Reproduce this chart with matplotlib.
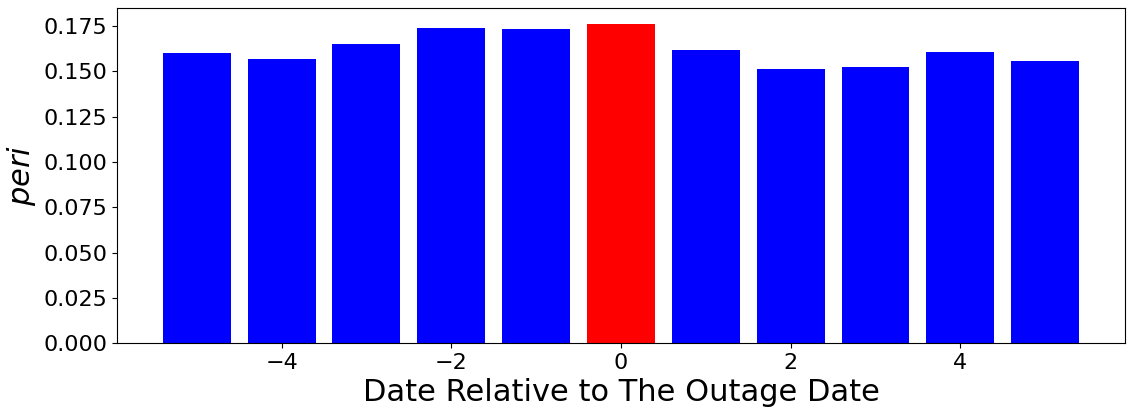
import numpy as np
import matplotlib
matplotlib.use("Agg")
import matplotlib.pyplot as plt
from matplotlib.ticker import MultipleLocator

# Days relative to the outage and the peri value per day
days = [-5, -4, -3, -2, -1, 0, 1, 2, 3, 4, 5]
peri = [0.1602, 0.1567, 0.1650, 0.1739, 0.1732, 0.1761, 0.1617, 0.1511, 0.1522, 0.1606, 0.1556]
colors = ['red' if d == 0 else 'blue' for d in days]

fig = plt.figure(figsize=(11.31, 4.18), dpi=100)
ax = fig.add_axes([0.1034, 0.179, 0.8913, 0.802])
ax.bar(days, peri, color=colors)
ax.yaxis.set_major_locator(MultipleLocator(0.025))
ax.set_xlabel('Date Relative to The Outage Date', fontsize=22)
ax.set_ylabel('$peri$', fontsize=22)
ax.tick_params(labelsize=16)
fig.savefig('out.png', dpi=100)
